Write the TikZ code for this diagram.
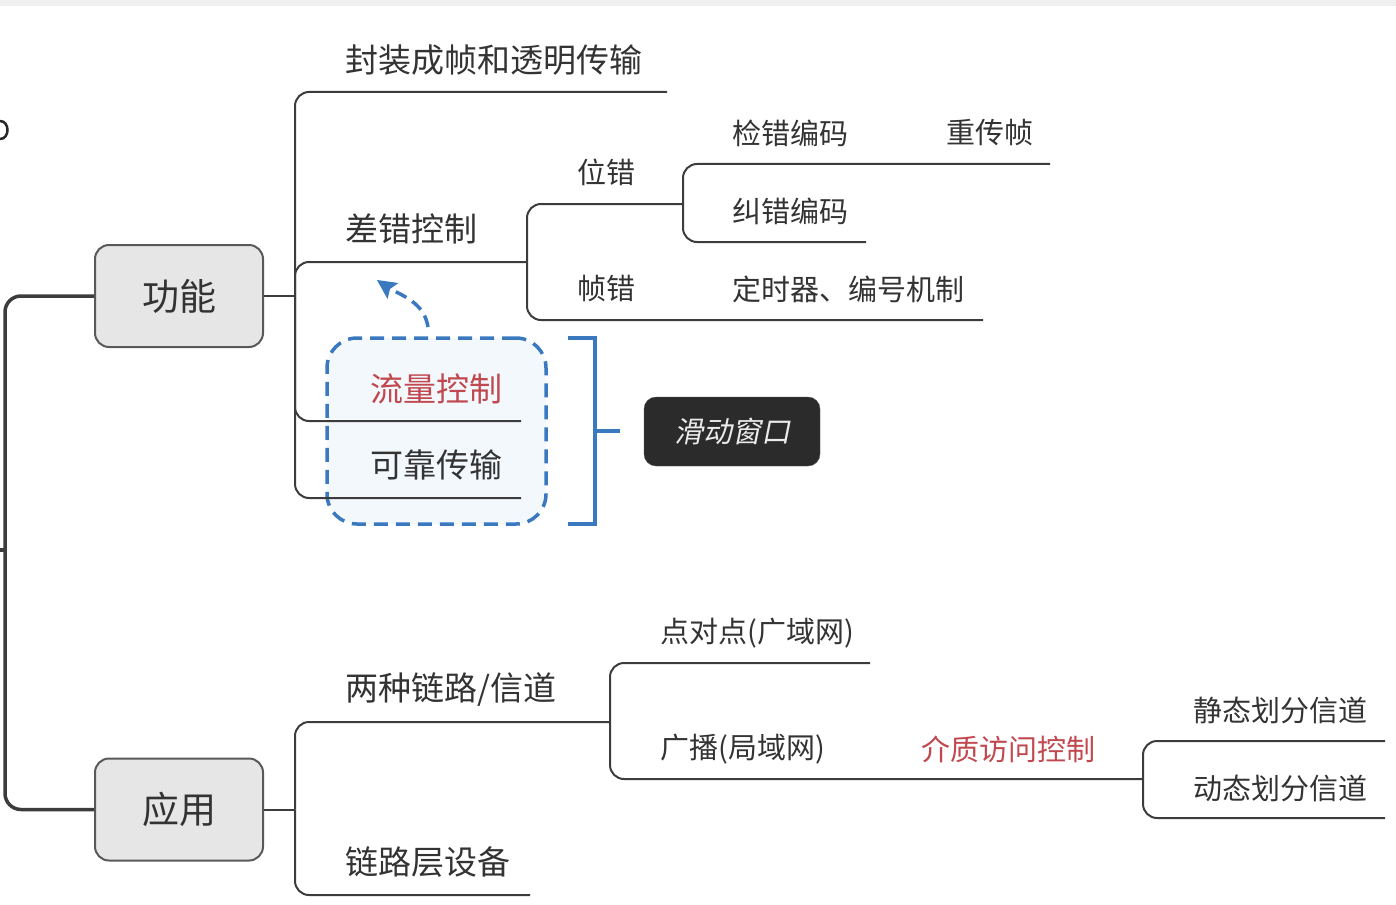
\documentclass[tikz,border=0pt]{standalone}
\usepackage{fontspec}
\setmainfont{Noto Sans CJK SC}
\newfontfamily\cjkslant[FakeSlant=0.2]{Noto Sans CJK SC}
\usetikzlibrary{arrows.meta}
\definecolor{ln}{HTML}{3C3C3C}
\definecolor{tx}{HTML}{333333}
\definecolor{rd}{HTML}{C0484E}
\definecolor{bl}{HTML}{3A78C0}
\definecolor{boxfill}{HTML}{E6E6E6}
\definecolor{darkbox}{HTML}{2B2B2B}
\definecolor{lightblue}{HTML}{F3F8FD}
\tikzset{
  branch/.style={draw=ln, line width=2, rounded corners=14},
  tone/.style={anchor=west, inner sep=0, font=\fontsize{33}{40}\selectfont, text=tx},
  ttwo/.style={anchor=west, inner sep=0, font=\fontsize{29}{35}\selectfont, text=tx},
  topbox/.style={rectangle, rounded corners=14, draw=ln!85, line width=2, fill=boxfill,
    minimum width=168, minimum height=102, inner sep=0, font=\fontsize{37}{44}\selectfont, text=tx},
  bluebox/.style={draw=bl, dash pattern=on 14pt off 8pt, line width=3.5, rounded corners=30,
    fill=lightblue, minimum width=219, minimum height=186, inner sep=0},
  darkbox/.style={fill=darkbox, draw=darkbox!80, rounded corners=12, minimum width=176,
    minimum height=69, inner sep=0, text=white!92!black, font=\cjkslant\fontsize{29}{35}\selectfont},
}
\begin{document}
\begin{tikzpicture}[x=1pt,y=-1pt]
\useasboundingbox (0,0) rectangle (1396,904);
\fill[black!6] (0,0) rectangle (1396,6);
% partial glyph at left edge
\coordinate (pg1) at (0,121);
\coordinate (pg2) at (0,139);
\draw[line width=2.5, black!85] (pg1) .. controls (10,121) and (10,139) .. (pg2);

% dashed group box (behind lines)
\node[bluebox] (grp) at (436.5,431) {};

% top-level boxes
\node[topbox] (gn) at (179,296) {功能};
\node[topbox] (yy) at (179,809.5) {应用};

% spine
\coordinate (sp) at (5,550);
\coordinate (sp0) at (0,550);
\draw[ln, line width=3.5, rounded corners=16] (gn.west) -- (5,296) -- (5,809.5) -- (yy.west);
\draw[ln, line width=3.5] (sp0) -- (sp);

% ---------- 功能 subtree ----------
\coordinate (J1) at (295,296);
\draw[ln, line width=2] (gn.east) -- (J1);
\coordinate (e1) at (667,92);
\coordinate (e2) at (527,262);
\coordinate (e3) at (521,421);
\coordinate (e4) at (521,498);
\draw[branch] (J1) -- (295,92) -- (e1);
\draw[branch] (J1) -- (295,262) -- (e2);
\draw[branch] (J1) -- (295,421) -- (e3);
\draw[branch] (J1) -- (295,498) -- (e4);
\node[tone] (a1) at (345,60) {封装成帧和透明传输};
\node[tone] (a2) at (345,229) {差错控制};
\node[tone, text=rd] (a3) at (370,389) {流量控制};
\node[tone] (a4) at (370,465) {可靠传输};

% 差错控制 children
\coordinate (e21) at (683,204);
\coordinate (e22) at (983,320);
\draw[branch] (e2) -- (527,204) -- (e21);
\draw[branch] (e2) -- (527,320) -- (e22);
\node[ttwo] (b1) at (577,172) {位错};
\node[ttwo] (b2) at (577,289) {帧错};
\node[ttwo] (b3) at (732,289) {定时器、编号机制};

% 位错 children
\coordinate (e211) at (1050,164);
\coordinate (e212) at (866,242);
\draw[branch] (e21) -- (683,164) -- (e211);
\draw[branch] (e21) -- (683,242) -- (e212);
\node[ttwo] (c1) at (732,133) {检错编码};
\node[ttwo] (c2) at (946,133) {重传帧};
\node[ttwo] (c3) at (732,211) {纠错编码};

% dashed arrow from group to 差错控制
\coordinate (arrS) at (428,327);
\coordinate (arrN) at (390,289);
\coordinate (arrE) at (377,280);
\coordinate (ah1) at (398.5,283);
\coordinate (ah2) at (387.5,299);
\draw[bl, line width=3.5, dash pattern=on 12pt off 7pt]
  (arrS) .. controls (425,309) and (414,300) .. (arrN);
\fill[bl] (arrE) -- (ah1) -- (arrN) -- (ah2) -- cycle;

% bracket
\coordinate (br1) at (568,338);
\coordinate (br2) at (568,524);
\coordinate (brm) at (595,431);
\draw[bl, line width=3.5] (br1) -- (595,338) -- (595,524) -- (br2);
\node[darkbox] (sw) at (732,431.5) {滑动窗口};
\coordinate (brt) at (620,431);
\draw[bl, line width=3.5] (brm) -- (brt);

% ---------- 应用 subtree ----------
\coordinate (J4) at (295,809.5);
\draw[ln, line width=2] (yy.east) -- (J4);
\coordinate (f1) at (610,722);
\coordinate (f2) at (530,895);
\draw[branch] (J4) -- (295,722) -- (f1);
\draw[branch] (J4) -- (295,895) -- (f2);
\node[tone] (d1) at (345,690) {两种链路/信道};
\node[tone] (d2) at (345,862) {链路层设备};

\coordinate (f11) at (870,663);
\coordinate (f12) at (1143,779);
\draw[branch] (f1) -- (610,663) -- (f11);
\draw[branch] (f1) -- (610,779) -- (f12);
\node[ttwo] (g1) at (660,633) {点对点(广域网)};
\node[ttwo] (g2) at (660,749) {广播(局域网)};
\node[ttwo, text=rd] (g3) at (921,749) {介质访问控制};

\coordinate (f121) at (1385,741);
\coordinate (f122) at (1385,818);
\draw[branch] (f12) -- (1143,741) -- (f121);
\draw[branch] (f12) -- (1143,818) -- (f122);
\node[ttwo] (h1) at (1193,710) {静态划分信道};
\node[ttwo] (h2) at (1193,788) {动态划分信道};
\end{tikzpicture}
\end{document}
